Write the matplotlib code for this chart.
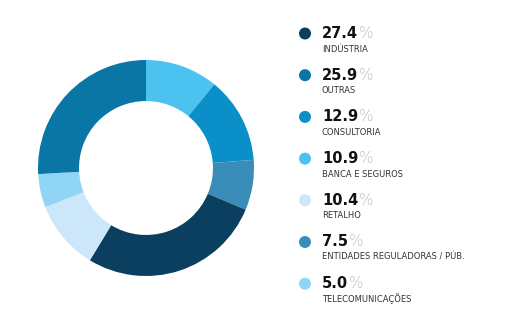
import matplotlib
matplotlib.use("Agg")
import matplotlib.pyplot as plt
from matplotlib.patches import Circle

# Sector shares (%), in legend order
sectors = ["INDÚSTRIA", "OUTRAS", "CONSULTORIA", "BANCA E SEGUROS",
           "RETALHO", "ENTIDADES REGULADORAS / PÚB.", "TELECOMUNICAÇÕES"]
shares = [27.4, 25.9, 12.9, 10.9, 10.4, 7.5, 5.0]
colors = ["#0b3f5f", "#0a76a6", "#0a8fc9", "#4cc2f1",
          "#cbe7f9", "#3a8db8", "#90d5f6"]

# Clockwise order of the ring starting at 12 o'clock
ring_order = [3, 2, 5, 0, 4, 6, 1]

W, H = 520, 324
fig = plt.figure(figsize=(W / 100, H / 100), dpi=100)
fig.patch.set_facecolor("white")

# Donut
cx, cy, r = 146, 168, 108
ax = fig.add_axes([(cx - r) / W, (H - cy - r) / H, 2 * r / W, 2 * r / H])
ax.pie([shares[i] for i in ring_order],
       colors=[colors[i] for i in ring_order],
       startangle=90, counterclock=False,
       wedgeprops=dict(width=0.38, linewidth=0))
ax.set_aspect("equal")
ax.set_xlim(-1, 1)
ax.set_ylim(-1, 1)
ax.axis("off")

# Legend drawn in pixel coordinates
lax = fig.add_axes([0, 0, 1, 1])
lax.set_xlim(0, W)
lax.set_ylim(H, 0)
lax.axis("off")

renderer = fig.canvas.get_renderer()
base0, step = 38, 41.7
num_x, dot_x = 322, 305
for k, (name, val, col) in enumerate(zip(sectors, shares, colors)):
    yb = base0 + k * step
    lax.add_patch(Circle((dot_x, yb - 4.5), 6, color=col, lw=0))
    t = lax.text(num_x, yb, f"{val:.1f}", fontsize=10.5, fontweight="bold",
                 family="DejaVu Sans", color="#111111", va="baseline", ha="left")
    bb = t.get_window_extent(renderer=renderer)
    lax.text(bb.x1 + 0.5, yb, "%", fontsize=11, fontweight="light",
             family="DejaVu Sans", color="#bdbdbd", va="baseline", ha="left")
    lax.text(num_x, yb + 13.5, name, fontsize=6.0, family="DejaVu Sans",
             color="#333333", va="baseline", ha="left")

fig.savefig("out.png", dpi=100, facecolor="white")
